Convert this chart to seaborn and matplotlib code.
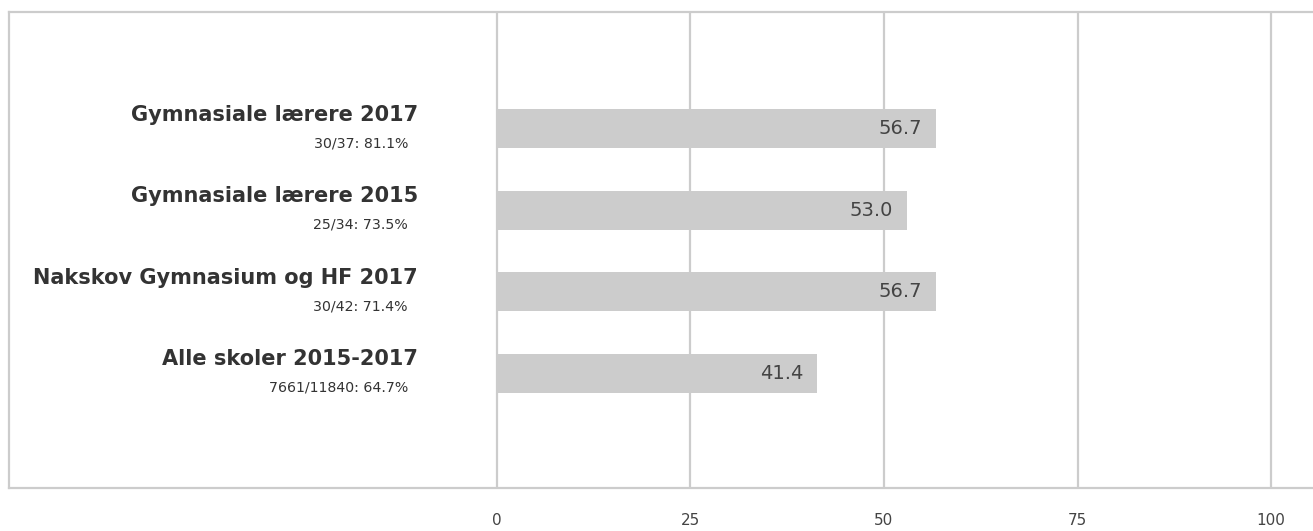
import numpy as np
import pandas as pd
import matplotlib
matplotlib.use("Agg")
import matplotlib.pyplot as plt
import seaborn as sns

groups = ["Gymnasiale lærere 2017", "Gymnasiale lærere 2015",
          "Nakskov Gymnasium og HF 2017", "Alle skoler 2015-2017"]
responses = ["30/37: 81.1%", "25/34: 73.5%", "30/42: 71.4%", "7661/11840: 64.7%"]
scores = [56.7, 53.0, 56.7, 41.4]
ticks = [0, 25, 50, 75, 100]

df = pd.DataFrame({"group": groups, "score": scores})

sns.set_style("white")
plt.rcParams["font.family"] = ["DejaVu Sans"]

W, H = 1313, 531
fig = plt.figure(figsize=(W / 100, H / 100), dpi=100)
# axes spans the full framed box; 0 sits at x=497 px
ax = fig.add_axes([9 / W, 1 - 488 / H, (W - 9) / W, (488 - 12) / H])

px = 7.74  # pixels per unit
ax.set_xlim(-(497 - 9) / px, (W - 497) / px)

sns.barplot(data=df, x="score", y="group", orient="h", color="#cccccc",
            saturation=1, width=0.48, linewidth=0, ax=ax, zorder=2)
ax.set_ylim(3 + 1.41, -1.43)

for t in ticks:
    ax.axvline(t, color="#cccccc", lw=1.6, zorder=1)

ax.set_xticks(ticks)
ax.set_xticklabels([str(t) for t in ticks], fontsize=11, color="#444444")
ax.tick_params(axis="x", length=0, pad=18)
ax.set_yticks([])
ax.set_xlabel("")
ax.set_ylabel("")

for side in ["left", "top", "bottom"]:
    ax.spines[side].set_color("#cccccc")
    ax.spines[side].set_linewidth(1.6)
ax.spines["right"].set_visible(False)

for i, (g, r, s) in enumerate(zip(groups, responses, scores)):
    ax.text(-79 / px, i - 0.17, g, ha="right", va="center", fontsize=15,
            fontweight="bold", color="#333333")
    ax.text(-89 / px, i + 0.18, r, ha="right", va="center", fontsize=10.2,
            color="#333333")
    ax.text(s - 14 / px, i, f"{s:.1f}", ha="right", va="center",
            fontsize=14, color="#444444", zorder=3)

fig.savefig("out.png", dpi=100)
